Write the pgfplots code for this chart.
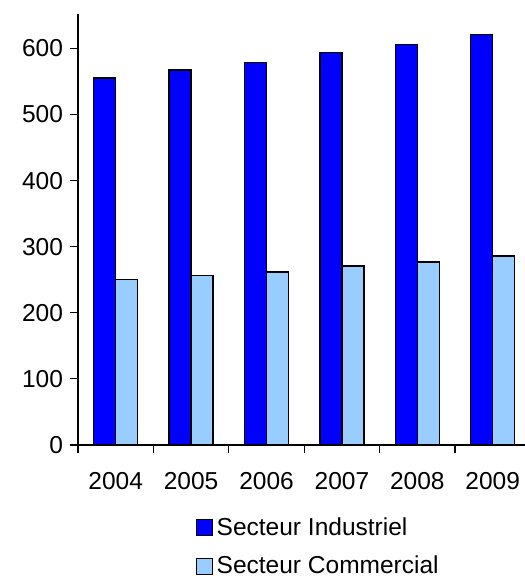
\documentclass[border=0pt]{standalone}
\usepackage{fontspec}
\setmainfont{Liberation Sans}
\usepackage{pgfplots}
\pgfplotsset{compat=1.18}
\definecolor{indus}{HTML}{0000FF}
\definecolor{comm}{HTML}{99CCFF}

\begin{document}
\begin{tikzpicture}
\begin{axis}[
	name=ax,
	scale only axis,
	width=223.5bp, height=215.5bp,
	xmin=-0.5, xmax=5.428,
	ymin=0, ymax=652,
	axis x line=bottom, axis y line=left,
	axis line style={-, line width=0.6bp},
	ybar=0pt, bar width=11bp,
	xtick={0,1,2,3,4,5},
	xticklabels={2004,2005,2006,2007,2008,2009},
	major x tick style={draw=none},
	minor xtick={-0.5,0.5,1.5,2.5,3.5,4.5},
	ytick={0,100,200,300,400,500,600},
	tick align=outside,
	major tick length=4bp, minor tick length=4bp,
	tick style={black, line width=0.6bp},
	/pgf/number format/assume math mode=true,
	tick label style={font=\fontsize{12.3}{14}\selectfont},
	xticklabel style={yshift=-6bp},
	legend style={draw=none, fill=none, at={(0.262,-0.158)}, anchor=north west,
		font=\fontsize{12.3}{14}\selectfont, row sep=5bp, inner sep=0pt},
	legend cell align=left,
	legend image code/.code={\draw[#1, draw=black, line width=0.6bp] (0bp,-4bp) rectangle (8bp,4bp);},
]
\addplot[fill=indus, draw=black, line width=0.7bp]
	coordinates {(0,555) (1,567) (2,579) (3,594) (4,606) (5,621)};
\addplot[fill=comm, draw=black, line width=0.7bp]
	coordinates {(0,250) (1,256) (2,262) (3,271) (4,277) (5,286)};
\legend{Secteur Industriel, Secteur Commercial}
\end{axis}
\pgfresetboundingbox
\path[use as bounding box] ([shift={(-39bp,-67bp)}]ax.south west) rectangle ++(262.5bp,289.5bp);
\end{tikzpicture}
\end{document}
